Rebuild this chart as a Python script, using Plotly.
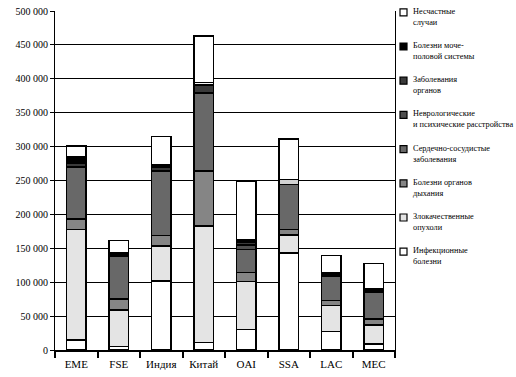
import plotly.graph_objects as go

# ---- data ----
categories = ["EME", "FSE", "Индия", "Китай", "OAI", "SSA", "LAC", "MEC"]

infectious  = [15000, 5000, 101700, 11300, 30500, 143400, 27000, 8800]
cancer      = [163000, 54000, 52000, 171700, 70500, 26000, 39000, 28200]
respiratory = [15500, 16000, 15500, 80800, 13000, 8000, 7000, 9000]
cardio      = [76500, 63300, 95000, 115200, 34300, 67000, 36000, 39000]
neuro       = [0, 0, 0, 0, 6700, 0, 0, 0]
digestive   = [6000, 2000, 5000, 11500, 4000, 0, 2500, 2000]
genito      = [8800, 2500, 4000, 4000, 3000, 7000, 2500, 3000]
accidents   = [16200, 18500, 41700, 68500, 87000, 59500, 25500, 37700]

y_ticks = [0, 50000, 100000, 150000, 200000, 250000, 300000, 350000, 400000, 450000, 500000]

names = [
    "Инфекционные<br>болезни",
    "Злокачественные<br>опухоли",
    "Болезни органов<br>дыхания",
    "Сердечно-сосудистые<br>заболевания",
    "Неврологические<br>и психические расстройства",
    "Заболевания<br>органов",
    "Болезни моче-<br>половой системы",
    "Несчастные<br>случаи",
]
values = [infectious, cancer, respiratory, cardio, neuro, digestive, genito, accidents]

# ---- styles ----
colors = ["#ffffff", "#e4e4e4", "#858585", "#686868", "#4e4e4e", "#3a3a3a", "#000000", "#ffffff"]
genito_point_colors = ["#000000", "#000000", "#000000", "#f4f4f4", "#000000", "#d2d2d2", "#000000", "#000000"]
FONT = "Liberation Serif, Times New Roman, serif"

fig = go.Figure()
for i, (nm, vals, col) in enumerate(zip(names, values, colors)):
    mc = genito_point_colors if vals is genito else col
    fig.add_trace(go.Bar(
        x=categories, y=vals, name=nm, showlegend=False,
        marker=dict(color=mc, line=dict(color="black", width=1.5)),
    ))

W, H = 516, 377
ML, MR, MT, MB = 55, 121, 11, 27
PW, PH = W - ML - MR, H - MT - MB

def px_x(px):
    return (px - ML) / PW

def px_y(py):
    return (H - MB - py) / PH

shapes, annotations = [], []
# manual legend, top to bottom
for i in range(len(names)):
    k = len(names) - 1 - i
    cy = 12.3 + i * 34.2
    shapes.append(dict(type="rect", xref="paper", yref="paper",
                       x0=px_x(400), x1=px_x(407), y0=px_y(cy + 3.5), y1=px_y(cy - 3.5),
                       fillcolor=colors[k], line=dict(color="black", width=1.2)))
    annotations.append(dict(xref="paper", yref="paper", x=px_x(412), y=px_y(cy - 6.5),
                            xanchor="left", yanchor="top", align="left", showarrow=False,
                            text=names[k], borderpad=0,
                            font=dict(family=FONT, size=8.3, color="black")))

fig.update_layout(
    width=W, height=H,
    margin=dict(l=ML, r=MR, t=MT, b=MB, pad=0, autoexpand=False),
    barmode="stack", bargap=0.53,
    paper_bgcolor="white", plot_bgcolor="white",
    font=dict(family=FONT, color="black"),
    separators=", ",
    shapes=shapes, annotations=annotations,
    showlegend=False,
)
fig.update_yaxes(
    range=[0, 500000], tickvals=y_ticks, tickformat=",d",
    showgrid=True, gridcolor="black", gridwidth=1,
    showline=True, linecolor="black", linewidth=1, mirror=True,
    ticks="outside", ticklen=4, tickcolor="black", automargin=False,
    tickfont=dict(family=FONT, size=10), zeroline=False,
)
fig.update_xaxes(
    type="category", range=[-0.5, 7.5], automargin=False,
    showline=True, linecolor="black", linewidth=1.5,
    ticks="outside", tickson="boundaries", ticklen=6, tickwidth=2, tickcolor="black",
    ticklabelstandoff=3,
    tickfont=dict(family=FONT, size=11), showgrid=False,
)

fig.write_html("out.html", config={"displayModeBar": False},
               post_script="document.body.style.margin='0';document.body.style.padding='0';")
